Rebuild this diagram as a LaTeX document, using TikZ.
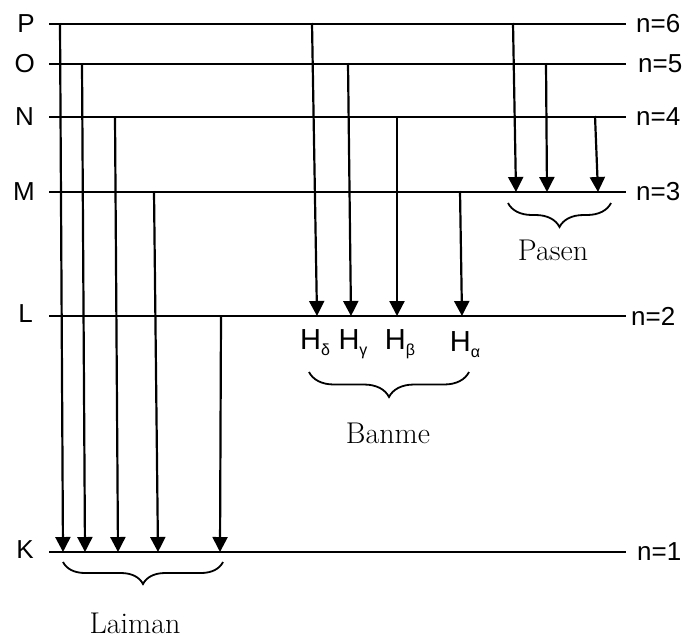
\documentclass[tikz,border=0pt]{standalone}
\usepackage{fontspec}
\newfontfamily\sansf{Liberation Sans}
\usetikzlibrary{arrows.meta,decorations.pathreplacing}
\newcommand\hsubscr[1]{\raisebox{-6pt}{\fontsize{16}{16}\selectfont #1}}
\begin{document}
\begin{tikzpicture}[x=1pt,y=-1pt,
  level/.style={line width=2.4pt},
  trans/.style={line width=2.2pt,-{Triangle[length=15pt,width=15pt]}},
  lbl/.style={font=\sansf\fontsize{26}{26}\selectfont, inner sep=0pt},
  hlbl/.style={font=\sansf\fontsize{29}{29}\selectfont, inner sep=0pt, anchor=base},
  ser/.style={font=\fontsize{30}{30}\selectfont, inner sep=0pt},
  brc/.style={line width=1.8pt, decorate, decoration={brace,mirror,amplitude=#1}}]
\useasboundingbox (0,0) rectangle (700,641);

% level ends
\foreach \n/\y in {P/24,O/64,N/117,M/192,L/316,K/552}{
  \coordinate (\n l) at (49,\y);
  \coordinate (\n r) at (626,\y);
}
\draw[level] (Pl) -- (Pr);
\draw[level] (Ol) -- (Or);
\draw[level] (Nl) -- (Nr);
\draw[level] (Ml) -- (Mr);
\draw[level] (Ll) -- (Lr);
\draw[level] (Kl) -- (Kr);

% left labels
\node[lbl, anchor=east] (lP) at (35,24) {P};
\node[lbl, anchor=east] (lO) at (35,64) {O};
\node[lbl, anchor=east] (lN) at (34,117) {N};
\node[lbl, anchor=east] (lM) at (35,192) {M};
\node[lbl, anchor=east] (lL) at (33,314) {L};
\node[lbl, anchor=east] (lK) at (34,550) {K};

% right labels
\node[lbl, anchor=west] (r6) at (636,24) {n=6};
\node[lbl, anchor=west] (r5) at (638,64) {n=5};
\node[lbl, anchor=west] (r4) at (636,117) {n=4};
\node[lbl, anchor=west] (r3) at (636,192) {n=3};
\node[lbl, anchor=west] (r2) at (631,316) {n=2};
\node[lbl, anchor=west] (r1) at (637,552) {n=1};

% Lyman transitions
\coordinate (ly1s) at (60,23);  \coordinate (ly1e) at (63,552);
\coordinate (ly2s) at (82,63);  \coordinate (ly2e) at (85,552);
\coordinate (ly3s) at (115,116); \coordinate (ly3e) at (118,552);
\coordinate (ly4s) at (154,191); \coordinate (ly4e) at (158,552);
\coordinate (ly5s) at (221,315); \coordinate (ly5e) at (220,552);
\draw[trans] (ly1s) -- (ly1e);
\draw[trans] (ly2s) -- (ly2e);
\draw[trans] (ly3s) -- (ly3e);
\draw[trans] (ly4s) -- (ly4e);
\draw[trans] (ly5s) -- (ly5e);

% Balmer transitions
\coordinate (ba1s) at (312,23);  \coordinate (ba1e) at (317,316);
\coordinate (ba2s) at (348,63);  \coordinate (ba2e) at (351,316);
\coordinate (ba3s) at (397,116); \coordinate (ba3e) at (397,316);
\coordinate (ba4s) at (460,191); \coordinate (ba4e) at (462,316);
\draw[trans] (ba1s) -- (ba1e);
\draw[trans] (ba2s) -- (ba2e);
\draw[trans] (ba3s) -- (ba3e);
\draw[trans] (ba4s) -- (ba4e);

% Paschen transitions
\coordinate (pa1s) at (513,23);  \coordinate (pa1e) at (516,192);
\coordinate (pa2s) at (546,63);  \coordinate (pa2e) at (547,192);
\coordinate (pa3s) at (595,116); \coordinate (pa3e) at (598,192);
\draw[trans] (pa1s) -- (pa1e);
\draw[trans] (pa2s) -- (pa2e);
\draw[trans] (pa3s) -- (pa3e);

% H labels
\node[hlbl] (hd) at (315,349) {H\hsubscr{δ}};
\node[hlbl] (hg) at (353,349) {H\hsubscr{γ}};
\node[hlbl] (hb) at (400,349) {H\hsubscr{β}};
\node[hlbl] (ha) at (465,351) {H\hsubscr{α}};

% braces
\coordinate (lyb1) at (63,562);  \coordinate (lyb2) at (223,562);
\coordinate (bab1) at (309,372); \coordinate (bab2) at (469,372);
\coordinate (pab1) at (508,203); \coordinate (pab2) at (611,203);
\draw[brc=22pt] (lyb1) -- (lyb2);
\draw[brc=25pt] (bab1) -- (bab2);
\draw[brc=24pt] (pab1) -- (pab2);

% series names
\node[ser] (pasen) at (553,250) {Pasen};
\node[ser] (banme) at (388,433) {Banme};
\node[ser] (laiman) at (135,623) {Laiman};
\end{tikzpicture}
\end{document}
